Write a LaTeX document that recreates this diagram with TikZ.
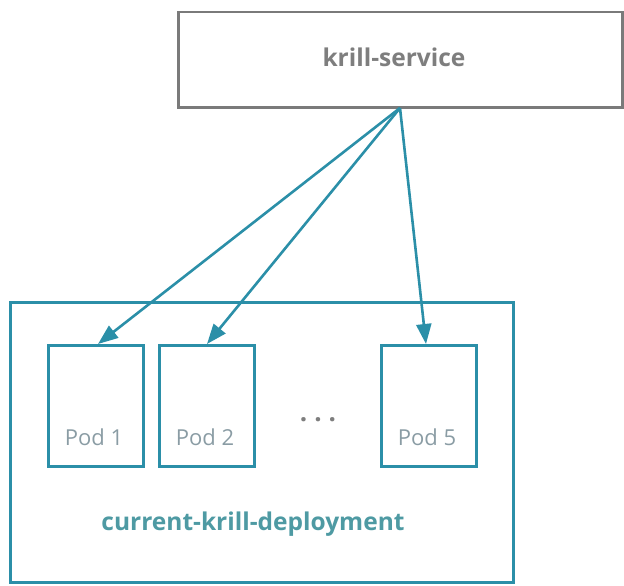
\documentclass[tikz,border=0pt]{standalone}
\usepackage{fontspec}
\setmainfont{Open Sans}
\usetikzlibrary{arrows.meta}
\definecolor{teal1}{HTML}{2B8FA8}
\definecolor{tealtext}{HTML}{4E9AA3}
\definecolor{grayline}{HTML}{7A7A7A}
\definecolor{graytext}{HTML}{7E7E7E}
\definecolor{podtext}{HTML}{8A9CA4}
\tikzset{
  svcbox/.style={draw=grayline, line width=2.5pt, fill=white},
  depbox/.style={draw=teal1, line width=2.8pt},
  podbox/.style={draw=teal1, line width=2.8pt, minimum width=95pt, minimum height=121pt, anchor=north west, inner sep=0pt},
  podlabel/.style={text=podtext, font=\fontsize{22}{26}\selectfont},
  conn/.style={draw=teal1, line width=2.6pt, -{Triangle[length=20pt,width=15pt]}}
}
\begin{document}
\begin{tikzpicture}[x=1pt,y=-1pt]
\useasboundingbox (0,0) rectangle (624,586);
\node[svcbox, minimum width=444pt, minimum height=95pt, anchor=north west, inner sep=0pt] (svc) at (177,11) {};
\node[text=graytext, font=\fontsize{24.5}{28}\selectfont\bfseries] (svct) at (394,57) {krill-service};
\node[depbox, minimum width=503pt, minimum height=280pt, anchor=north west, inner sep=0pt] (dep) at (9,301) {};
\node[podbox] (p1) at (47,344) {};
\node[podbox] (p2) at (158,344) {};
\node[podbox] (p5) at (380,344) {};
\node[podlabel] (l1) at (94,437) {Pod 1};
\node[podlabel] (l2) at (205,437) {Pod 2};
\node[podlabel] (l5) at (427,437) {Pod 5};
\node[text=graytext, font=\fontsize{26}{28}\selectfont\bfseries] (dots) at (318,420) {.\hspace{7pt}.\hspace{7pt}.};
\node[text=tealtext, font=\fontsize{24.5}{28}\selectfont\bfseries] (dept) at (253,524) {current-krill-deployment};
\coordinate (o) at (400,108);
\draw[conn] (o) -- (p1.north -| 98,0);
\draw[conn] (o) -- (p2.north -| 207,0);
\draw[conn] (o) -- (p5.north -| 426,0);
\end{tikzpicture}
\end{document}
